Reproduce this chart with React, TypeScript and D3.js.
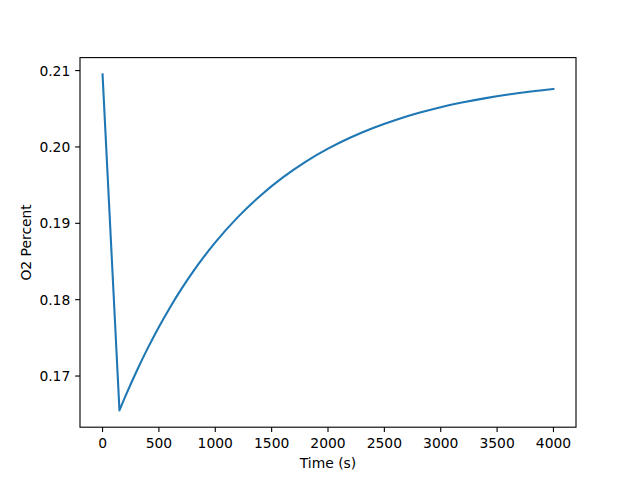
import React from "react";
import * as d3 from "d3";

const timeS = [0, 150, 200, 300, 400, 500, 600, 700, 800, 900, 1000, 1200, 1400, 1600, 1800, 2000, 2200, 2400, 2600, 2800, 3000, 3200, 3400, 3600, 3800, 4000];
const o2Percent = [0.2095, 0.1655, 0.16726, 0.17056, 0.17362, 0.17643, 0.17902, 0.18141, 0.18361, 0.18563, 0.1875, 0.19081, 0.19362, 0.19601, 0.19805, 0.19977, 0.20123, 0.20248, 0.20353, 0.20443, 0.2052, 0.20584, 0.20639, 0.20686, 0.20726, 0.2076];
const xTicks = [0, 500, 1000, 1500, 2000, 2500, 3000, 3500, 4000];
const yTicks = [0.17, 0.18, 0.19, 0.2, 0.21];
const xLabel = "Time (s)";
const yLabel = "O2 Percent";

export default function App() {
  const W = 640, H = 480;
  const left = 80, right = 576, top = 57.6, bottom = 427.2;
  const data = timeS.map((t, i) => ({ t, v: o2Percent[i] }));
  const [xmin, xmax] = d3.extent(timeS) as [number, number];
  const [ymin, ymax] = d3.extent(o2Percent) as [number, number];
  const xm = (xmax - xmin) * 0.05, ym = (ymax - ymin) * 0.05;
  const x = d3.scaleLinear().domain([xmin - xm, xmax + xm]).range([left, right]);
  const y = d3.scaleLinear().domain([ymin - ym, ymax + ym]).range([bottom, top]);
  const minIdx = d3.minIndex(o2Percent);
  const drop = data.slice(0, minIdx + 1);
  const recovery = data.slice(minIdx);
  const lineLin = d3.line<{ t: number; v: number }>().x(d => x(d.t)).y(d => y(d.v));
  const lineSmooth = d3.line<{ t: number; v: number }>().x(d => x(d.t)).y(d => y(d.v)).curve(d3.curveMonotoneX);
  const pathD = (lineLin(drop) || "") + (lineSmooth(recovery) || "").replace(/^M/, "L");
  const font = "DejaVu Sans";
  const fs = 13.89;
  const tl = 4.86;
  return (
    <svg width={W} height={H} style={{ position: "absolute", left: 0, top: 0, background: "#fff" }} fontFamily={font}>
      <rect x={0} y={0} width={W} height={H} fill="#fff" />
      <path d={pathD} fill="none" stroke="#1f77b4" strokeWidth={2.08} strokeLinejoin="round" strokeLinecap="square" />
      <rect x={left} y={top} width={right - left} height={bottom - top} fill="none" stroke="#000" strokeWidth={1.11} />
      {xTicks.map(t => (
        <g key={"x" + t} transform={`translate(${x(t)},${bottom})`}>
          <line y1={0} y2={tl} stroke="#000" strokeWidth={1.11} />
          <text y={tl + 4.86 + 10.6} textAnchor="middle" fontSize={fs} fill="#000">{t}</text>
        </g>
      ))}
      {yTicks.map(t => (
        <g key={"y" + t} transform={`translate(${left},${y(t)})`}>
          <line x1={0} x2={-tl} stroke="#000" strokeWidth={1.11} />
          <text x={-tl - 4.86} dy="0.36em" textAnchor="end" fontSize={fs} fill="#000">{d3.format(".2f")(t)}</text>
        </g>
      ))}
      <text x={(left + right) / 2} y={468} textAnchor="middle" fontSize={fs} fill="#000">{xLabel}</text>
      <text transform={`translate(31,${(top + bottom) / 2}) rotate(-90)`} textAnchor="middle" fontSize={fs} fill="#000">{yLabel}</text>
    </svg>
  );
}
